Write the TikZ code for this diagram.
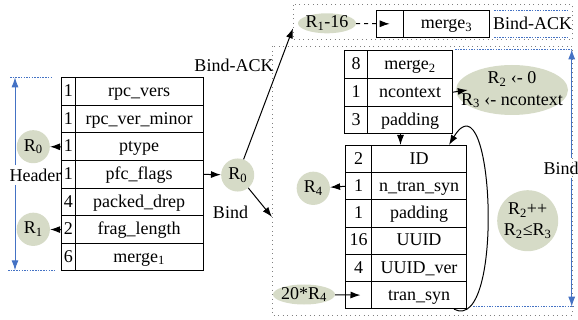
\documentclass[tikz,border=0pt]{standalone}
\usepackage{fontspec}
\setmainfont{Liberation Serif}
\usetikzlibrary{shapes.geometric,arrows.meta}
\definecolor{regfill}{RGB}{214,219,199}
\definecolor{dimblue}{RGB}{68,114,196}

\begin{document}
\begin{tikzpicture}[x=1pt,y=-1pt,
    font=\fontsize{18}{21.5}\selectfont,
    cell/.style={draw,line width=1pt,inner sep=0pt,anchor=north west,
        text height=11.8pt,text depth=1.5pt},
    reg/.style={circle,fill=regfill,inner sep=-20pt,minimum size=#1},
    reg/.default=32pt,
    regell/.style={ellipse,fill=regfill,inner sep=-20pt,align=center},
    arr/.style={-{Latex[length=10pt,width=7pt]},line width=1pt},
    frame/.style={gray,line width=1pt,dash pattern=on 1pt off 3.5pt},
    dim/.style={dimblue,line width=0.9pt,dash pattern=on 1.5pt off 1.2pt},
    dimarr/.style={dimblue,line width=1pt,-{Latex[length=10pt,width=7pt]}}]
    \useasboundingbox (0,0) rectangle (578,320);

    \draw[frame] (293,5) rectangle (572,40);
    \draw[frame] (272,46.5) rectangle (572,315);

    % header
    \foreach \n/\f [count=\i] in {1/rpc\_vers,1/rpc\_ver\_minor,1/ptype,1/pfc\_flags,
        4/packed\_drep,2/frag\_length,6/merge\textsubscript{1}} {
        \node[cell,minimum width=13.7pt,minimum height=27.6pt] (ln\i) at (61,{77.3+27.6*(\i-1)}) {\n};
        \node[cell,minimum width=128pt,minimum height=27.6pt] (lf\i) at (74.7,{77.3+27.6*(\i-1)}) {\f};
    }

    % bind-ack
    \node[cell,minimum width=27pt,minimum height=26.7pt] (an) at (375.7,10) {};
    \node[cell,minimum width=86.6pt,minimum height=26.7pt] (af) at (402.7,10) {merge\textsubscript{3}};

    % bind
    \foreach \n/\f [count=\i] in {8/merge\textsubscript{2},1/ncontext,3/padding} {
        \node[cell,minimum width=23.3pt,minimum height=27.8pt] (rn\i) at (344,{50+27.8*(\i-1)}) {\n};
        \node[cell,minimum width=84.4pt,minimum height=27.8pt] (rf\i) at (367.3,{50+27.8*(\i-1)}) {\f};
    }
    \foreach \n/\f [count=\i] in {2/ID,1/n\_tran\_syn,1/padding,16/UUID,4/UUID\_ver,/tran\_syn} {
        \node[cell,minimum width=26pt,minimum height=27.2pt] (bn\i) at (345,{145+27.2*(\i-1)}) {\n};
        \node[cell,minimum width=95pt,minimum height=27.2pt] (bf\i) at (371,{145+27.2*(\i-1)}) {\f};
    }

    \node[reg] (lr0) at (33.3,146.7) {R\textsubscript{0}};
    \node[reg] (lr1) at (33.3,229.3) {R\textsubscript{1}};
    \node[reg] (mr0) at (237.7,175) {R\textsubscript{0}};
    \node[reg=28pt] (r4) at (313.3,188.3) {R\textsubscript{4}};
    \node[reg=61pt,align=center] (loopc) at (527.7,220.7) {R\textsubscript{2}++\\R\textsubscript{2}≤R\textsubscript{3}};
    \node[regell,minimum width=58pt,minimum height=20pt] (ackoff) at (327,23.3) {R\textsubscript{1}-16};
    \node[regell,minimum width=62pt,minimum height=20pt] (synoff) at (304,294.5) {20*R\textsubscript{4}};
    \node[regell,minimum width=112pt,minimum height=50pt] (ctxinit) at (512,90)
        {R\textsubscript{2} ‹- 0\\R\textsubscript{3} ‹- ncontext};

    \node (acklbl) at (234,65) {Bind-ACK};
    \node (bindlbl) at (230.5,212.7) {Bind};
    \coordinate (ackin) at (293,28.3);
    \coordinate (bindin) at (272,217);

    \draw[arr] (ln3.west) -- (lr0);
    \draw[arr] (ln6.west) -- (lr1);
    \draw[arr] (lf4.east) -- (mr0);
    \draw[arr] (mr0) -- (ackin);
    \draw[arr] (mr0) -- (bindin);
    \draw[arr,dash pattern=on 4pt off 4pt] (ackoff) -- (an.center);
    \draw[arr] (synoff) -- ([xshift=2pt]bn6.center);
    \draw[arr] (rf2.east) -- ([xshift=12pt]ctxinit.west);
    \draw[arr] ([xshift=-9.5pt]rf3.south) -- ([xshift=-9.5pt]rf3.south |- bf1.north);
    \draw[arr] (bn2.west) -- (r4);
    \draw[arr] ([xshift=-13pt]bf6.south east) .. controls (505,335) and (494,70) .. ([xshift=-18pt]bf1.north east);

    % dimensions
    \draw[dim] (10,77.3) -- (53,77.3);
    \draw[dim] (8,270.3) -- (55,270.3);
    \node (hdr) at (35.5,175) {Header};
    \coordinate (htop) at (15,77.3);
    \coordinate (hbot) at (15,270.3);
    \draw[dimarr] (hdr.north -| htop) -- (htop);
    \draw[dimarr] (hdr.south -| hbot) -- (hbot);

    \draw[dim] (455,49.3) -- (572,49.3);
    \draw[dim] (473,306.7) -- (575,306.7);
    \node (bindside) at (561,168) {Bind};
    \coordinate (btop) at (571.7,49.3);
    \coordinate (bbot) at (571.7,306.7);
    \draw[dimarr] (bindside.north -| btop) -- (btop);
    \draw[dimarr] (bindside.south -| bbot) -- (bbot);

    \draw[dim] (494,10) -- (568,10);
    \draw[dim] (494,37.3) -- (568,37.3);
    \node (ackside) at (532.5,23.3) {Bind-ACK};
\end{tikzpicture}
\end{document}
